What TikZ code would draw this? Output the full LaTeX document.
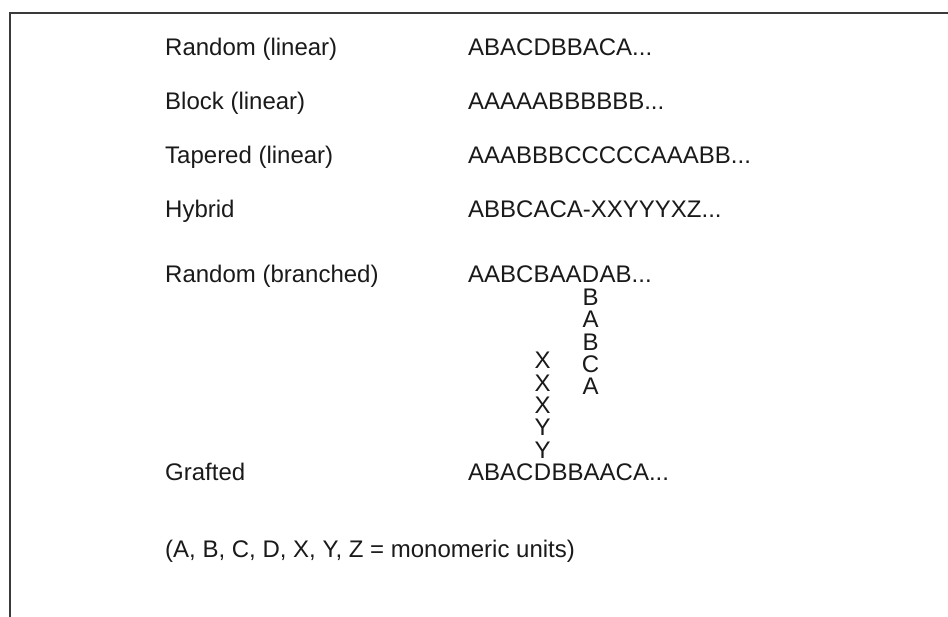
\documentclass[tikz,border=0pt]{standalone}
\usepackage{fontspec}
\setmainfont{Liberation Sans}
\usepackage{tikz}
\usetikzlibrary{positioning}
\definecolor{framec}{HTML}{3A3A3A}
\definecolor{textc}{HTML}{1A1A1A}
\tikzset{
  lbl/.style={anchor=base west,inner sep=0pt,text=textc,font=\fontsize{24}{28}\selectfont},
  unit/.style={inner sep=0pt,text=textc,text height=17.2pt,text depth=0pt,font=\fontsize{24}{28}\selectfont}
}
\begin{document}
\begin{tikzpicture}[x=1pt,y=-1pt]
\useasboundingbox (0,0) rectangle (948,617);
\draw[framec,line width=1.5pt] (948,13) -- (10,13) -- (10,617);
% copolymer types
\node[lbl] (rlin) at (165,56) {Random (linear)};
\node[lbl] (blin) at (165,110) {Block (linear)};
\node[lbl] (tlin) at (165,164) {Tapered (linear)};
\node[lbl] (hyb) at (165,218) {Hybrid};
\node[lbl] (rbr) at (165,283) {Random (branched)};
\node[lbl] (graf) at (165,480) {Grafted};
% sequences
\node[lbl] (rlinS) at (468,56) {ABACDBBACA...};
\node[lbl] (blinS) at (468,110) {AAAAABBBBBB...};
\node[lbl] (tlinS) at (468,164) {AAABBBCCCCCAAABB...};
\node[lbl] (hybS) at (468,218) {ABBCACA-XXYYYXZ...};
% branched: side chain hangs from the D
\node[lbl] (rbrS) at (468,283) {AABCBAA};
\node[lbl] (br0) at (rbrS.base east) {D};
\node[lbl] (rbrT) at (br0.base east) {AB...};
\foreach \u [count=\i] in {B,A,B,C,A} {
  \pgfmathtruncatemacro\j{\i-1}
  \node[unit,below=4.8pt of br\j] (br\i) {\u};
}
% grafted: side chain stands on the D
\node[lbl] (grafS) at (468,480) {ABAC};
\node[lbl] (gr0) at (grafS.base east) {D};
\node[lbl] (grafT) at (gr0.base east) {BBAACA...};
\foreach \u [count=\i] in {Y,Y,X,X,X} {
  \pgfmathtruncatemacro\j{\i-1}
  \node[unit,above=4.8pt of gr\j] (gr\i) {\u};
}
\node[lbl] (key) at (165,557) {(A, B, C, D, X, Y, Z = monomeric units)};
\end{tikzpicture}
\end{document}
